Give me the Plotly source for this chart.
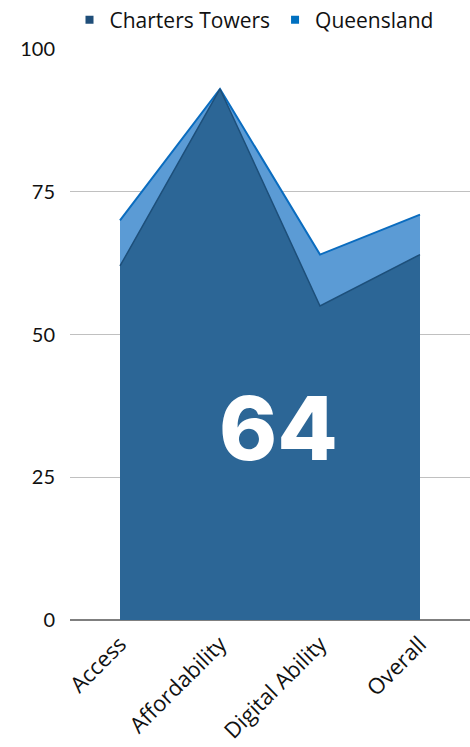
import plotly.graph_objects as go

categories = ["Access", "Affordability", "Digital Ability", "Overall"]
charters_towers = [62, 93, 55, 64]
queensland = [70, 93, 64, 71]
y_ticks = [0, 25, 50, 75, 100]

FONT = "Lato"
WIDE = "Open Sans"
CT_FILL, CT_LINE, CT_KEY = "#2c6696", "#1d4f7a", "#1f4e79"
QLD_FILL, QLD_LINE, QLD_KEY = "#5b9bd5", "#0a6cbf", "#0070c0"

fig = go.Figure()
fig.add_trace(go.Scatter(
    x=categories, y=queensland, name="Queensland", mode="lines",
    fill="tozeroy", fillcolor=QLD_FILL, showlegend=False,
    line=dict(color=QLD_LINE, width=2),
))
fig.add_trace(go.Scatter(
    x=categories, y=charters_towers, name="Charters Towers", mode="lines",
    fill="tozeroy", fillcolor=CT_FILL, showlegend=False,
    line=dict(color=CT_LINE, width=1.5),
))
# legend keys (small squares)
for name, col in [("Charters Towers", CT_KEY), ("Queensland", QLD_KEY)]:
    fig.add_trace(go.Scatter(x=[None], y=[None], name=name, mode="markers",
                             marker=dict(symbol="square", size=8, color=col)))

fig.add_annotation(
    text=str(charters_towers[-1]), xref="paper", yref="paper",
    x=0.52, y=0.24, showarrow=False,
    font=dict(family="Inter", size=88, color="white", weight=800),
)

fig.update_layout(
    width=470, height=747,
    margin=dict(l=70, r=0, t=49, b=127, autoexpand=False),
    plot_bgcolor="white", paper_bgcolor="white",
    font=dict(family=FONT, size=20, color="#111111"),
    showlegend=True,
    legend=dict(orientation="h", x=0.46, xanchor="center", yref="container",
                y=1 - 20 / 747, yanchor="middle",
                font=dict(size=21, family=WIDE), itemwidth=30, bgcolor="rgba(0,0,0,0)"),
    xaxis=dict(range=[-0.5, 3.5], tickangle=-45, showgrid=False,
               tickfont=dict(size=22, family=WIDE), ticks="", showline=False,
               ticklabelstandoff=6),
    yaxis=dict(range=[0, 100], tickvals=y_ticks, showgrid=True, gridcolor="#c0c0c0",
               gridwidth=1, zeroline=True, zerolinecolor="#7f7f7f", zerolinewidth=2,
               tickfont=dict(size=20, family=FONT), ticks="", ticklabelstandoff=14),
)

fig.write_html("out.html")
